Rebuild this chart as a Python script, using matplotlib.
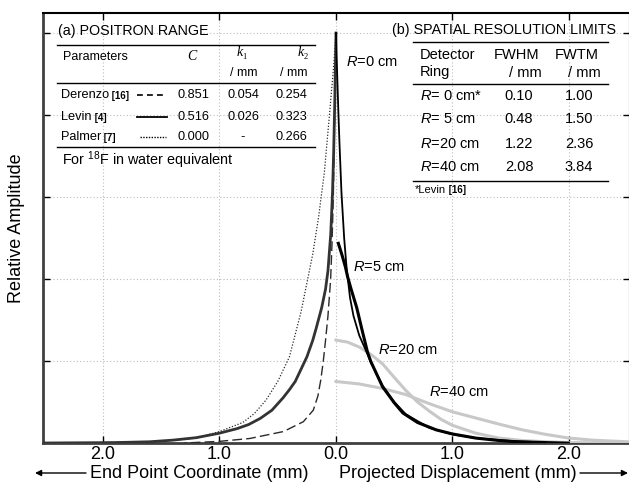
import matplotlib
matplotlib.use("Agg")
import matplotlib.pyplot as plt
from matplotlib.lines import Line2D

plt.rcParams['font.family'] = ['Liberation Sans', 'DejaVu Sans']
plt.rcParams['mathtext.fontset'] = 'custom'
plt.rcParams['mathtext.rm'] = 'Liberation Sans'
plt.rcParams['mathtext.it'] = 'Liberation Sans:italic'

W, H = 629, 483

# left half: end point coordinate (distance from origin, mm)
derenzo_d = [0, 0.01, 0.023, 0.035, 0.046, 0.069, 0.09, 0.109, 0.13, 0.155, 0.195, 0.28, 0.45, 0.74, 1.0, 1.3]
derenzo_y = [1.0, 0.82, 0.60, 0.48, 0.40, 0.31, 0.25, 0.20, 0.155, 0.115, 0.08, 0.052, 0.028, 0.011, 0.004, 0.0]

levin_d = [0, 0.01, 0.02, 0.03, 0.045, 0.069, 0.09, 0.123, 0.17, 0.2, 0.25, 0.3, 0.35, 0.4, 0.455,
           0.55, 0.65, 0.75, 0.85, 1.0, 1.2, 1.4, 1.6, 1.9, 2.5]
levin_y = [1.0, 0.84, 0.71, 0.61, 0.51, 0.42, 0.375, 0.33, 0.28, 0.25, 0.21, 0.18, 0.15, 0.13, 0.11,
           0.08, 0.06, 0.045, 0.035, 0.024, 0.013, 0.007, 0.003, 0.001, 0.0]

palmer_d = [0, 0.02, 0.05, 0.1, 0.15, 0.2, 0.25, 0.3, 0.4, 0.5, 0.6, 0.7, 0.8, 1.0, 1.2, 1.5, 2.0, 2.5]
palmer_y = [1.0, 0.92, 0.82, 0.66, 0.55, 0.46, 0.39, 0.32, 0.21, 0.15, 0.105, 0.072, 0.05, 0.028, 0.012,
            0.004, 0.001, 0.0]

# right half: projected displacement (mm) for each detector ring radius
r0_x = [0, 0.01, 0.02, 0.03, 0.047, 0.07, 0.09, 0.12, 0.15, 0.2, 0.27, 0.3, 0.4, 0.5, 0.6, 0.8, 1.0, 1.2, 1.5, 2.0]
r0_y = [1.0, 0.90, 0.81, 0.73, 0.61, 0.50, 0.43, 0.355, 0.31, 0.262, 0.217, 0.196, 0.14, 0.10, 0.07, 0.037,
        0.021, 0.012, 0.005, 0.001]

r5_x = [0.02, 0.05, 0.08, 0.1, 0.13, 0.178, 0.22, 0.27, 0.3, 0.4, 0.5, 0.575, 0.7, 0.86, 1.0, 1.2, 1.4, 1.6, 1.8]
r5_y = [0.487, 0.46, 0.43, 0.405, 0.375, 0.33, 0.28, 0.222, 0.198, 0.137, 0.098, 0.073, 0.05, 0.032, 0.022,
        0.012, 0.006, 0.002, 0.0]

r20_x = [0, 0.1, 0.2, 0.3, 0.4, 0.5, 0.6, 0.7, 0.8, 0.9, 1.0, 1.2, 1.4, 1.6, 1.8, 2.0, 2.5]
r20_y = [0.251, 0.246, 0.234, 0.216, 0.193, 0.16, 0.128, 0.100, 0.078, 0.058, 0.043, 0.024, 0.012, 0.006,
         0.003, 0.001, 0.0]

r40_x = [0, 0.2, 0.4, 0.6, 0.8, 1.0, 1.2, 1.4, 1.6, 1.8, 2.0, 2.2, 2.5]
r40_y = [0.150, 0.144, 0.133, 0.118, 0.096, 0.076, 0.061, 0.046, 0.032, 0.021, 0.012, 0.007, 0.003]

xticks = [-2, -1, 0, 1, 2]
xtick_labels = ["2.0", "1.0", "0.0", "1.0", "2.0"]

range_rows = ["Derenzo", "Levin", "Palmer"]
range_refs = ["[16]", "[4]", "[7]"]
range_C = ["0.851", "0.516", "0.000"]
range_k1 = ["0.054", "0.026", "-"]
range_k2 = ["0.254", "0.323", "0.266"]

res_rings = ["$R$= 0 cm*", "$R$= 5 cm", "$R$=20 cm", "$R$=40 cm"]
res_fwhm = ["0.10", "0.48", "1.22", "2.08"]
res_fwtm = ["1.00", "1.50", "2.36", "3.84"]


def fx(px):
    return px / W


def fy(py):
    return 1 - py / H


def txt(px, py, s, **kw):
    kw.setdefault('va', 'center')
    return fig.text(fx(px), fy(py), s, **kw)


def hline(x0, x1, py, **kw):
    fig.add_artist(Line2D([fx(x0), fx(x1)], [fy(py), fy(py)], transform=fig.transFigure, **kw))


fig = plt.figure(figsize=(W / 100, H / 100), dpi=100)
ax = fig.add_axes([43 / W, 40 / H, 587 / W, 430 / H])

dark = '#2a2a2a'
ax.plot([-d for d in derenzo_d], derenzo_y, color=dark, lw=1.0, dashes=(7, 3), zorder=3)
ax.plot([-d for d in palmer_d], palmer_y, color=dark, lw=0.9, dashes=(1, 1.4), zorder=3)
ax.plot([-d for d in levin_d], levin_y, color='#333333', lw=2.0, zorder=4)

ax.plot(r20_x, r20_y, color='#c8c8c8', lw=2.2, zorder=3)
ax.plot(r40_x, r40_y, color='#c8c8c8', lw=2.2, zorder=3)
ax.plot(r0_x, r0_y, color='black', lw=1.3, zorder=4)
ax.plot(r5_x, r5_y, color='black', lw=2.2, zorder=4)

ax.set_xlim(-293 / 116.5, 294 / 116.5)
ax.set_ylim(0, 430 / 410)
ax.set_xticks(xticks)
ax.set_xticklabels(xtick_labels)
ax.set_yticks([0.2, 0.4, 0.6, 0.8, 1.0])
ax.set_yticklabels([])
ax.tick_params(direction='in', length=5, width=1, top=True, right=True, labelsize=13, pad=2)
ax.grid(True, ls=(0, (1, 2)), color='#bdbdbd', lw=0.8)
for s in ['left', 'bottom']:
    ax.spines[s].set_linewidth(2)
    ax.spines[s].set_color('#404040')
for s in ['top', 'right']:
    ax.spines[s].set_linewidth(1.5)
    ax.spines[s].set_color('black')

# curve labels
txt(346, 62, "$R$=0 cm", fontsize=10.5)
txt(353, 267, "$R$=5 cm", fontsize=10.5)
txt(378, 350, "$R$=20 cm", fontsize=10.5)
txt(429, 392, "$R$=40 cm", fontsize=10.5)

# axis labels
txt(17, 228, "Relative Amplitude", fontsize=13, rotation=90, ha='center')
txt(199, 473, "End Point Coordinate (mm)", fontsize=13, ha='center')
txt(458, 473, "Projected Displacement (mm)", fontsize=13, ha='center')
arrow = dict(arrowstyle='-|>', lw=1, color='black', mutation_scale=9, shrinkA=0, shrinkB=0)
ax.annotate('', xy=(35, H - 473), xytext=(86, H - 473), xycoords='figure pixels',
            textcoords='figure pixels', arrowprops=arrow)
ax.annotate('', xy=(628, H - 473), xytext=(580, H - 473), xycoords='figure pixels',
            textcoords='figure pixels', arrowprops=arrow)

# (a) positron range table
txt(58, 31, "(a) POSITRON RANGE", fontsize=10.3)
hline(57, 315, 45, color='black', lw=1)
hline(57, 315, 83, color='black', lw=1)
hline(57, 315, 147, color='black', lw=1)
txt(63, 57, "Parameters", fontsize=9)
txt(192, 57, "C", fontsize=10, family='Liberation Serif', style='italic', ha='center')
txt(237, 53, "k", fontsize=10, family='Liberation Serif', style='italic')
txt(242.5, 57, "1", fontsize=6, family='Liberation Serif')
txt(244, 73, "/ mm", fontsize=9, ha='center')
txt(298, 53, "k", fontsize=10, family='Liberation Serif', style='italic')
txt(303.5, 57, "2", fontsize=6, family='Liberation Serif')
txt(294, 73, "/ mm", fontsize=9, ha='center')

row_y = [95, 117, 137]
key_style = [dict(dashes=(3.5, 2.5), lw=1.2), dict(lw=1.3), dict(dashes=(1, 1), lw=1)]
key_x = [(137, 167), (137, 167), (140, 166)]
for i in range(3):
    t = txt(61, row_y[i], range_rows[i], fontsize=9.2)
    ax.annotate(" " + range_refs[i], xy=(1, 0), xycoords=t, va='bottom', fontsize=7, fontweight='bold')
    hline(key_x[i][0], key_x[i][1], row_y[i], color='black', **key_style[i])
    txt(193, row_y[i], range_C[i], fontsize=9.2, ha='center')
    txt(243, row_y[i], range_k1[i], fontsize=9.2, ha='center')
    txt(291, row_y[i], range_k2[i], fontsize=9.2, ha='center')
txt(62, 160, "For $^{18}$F in water equivalent", fontsize=10.4)

# (b) spatial resolution table
txt(392, 30, "(b) SPATIAL RESOLUTION LIMITS", fontsize=10.3)
hline(413, 608, 42, color='black', lw=1)
hline(413, 608, 84, color='black', lw=1)
hline(413, 608, 181, color='black', lw=1)
txt(420, 55, "Detector", fontsize=10.5)
txt(420, 72, "Ring", fontsize=10.5)
txt(517, 55, "FWHM", fontsize=10.5, ha='center')
txt(525, 73, "/ mm", fontsize=10.5, ha='center')
txt(577, 55, "FWTM", fontsize=10.5, ha='center')
txt(584, 73, "/ mm", fontsize=10.5, ha='center')
res_y = [96, 119, 144, 167]
for i in range(4):
    txt(420, res_y[i], res_rings[i], fontsize=10.5)
    txt(519, res_y[i], res_fwhm[i], fontsize=10.5, ha='center')
    txt(579, res_y[i], res_fwtm[i], fontsize=10.5, ha='center')
t = txt(415, 190, "*Levin", fontsize=8)
ax.annotate(" [16]", xy=(1, 0), xycoords=t, va='bottom', fontsize=7, fontweight='bold')

fig.savefig("out.png", dpi=100)
